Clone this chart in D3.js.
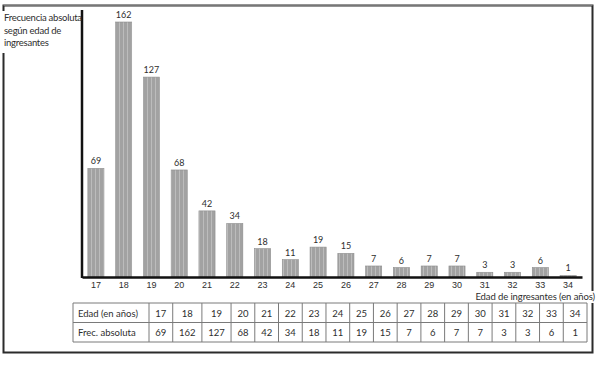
<!DOCTYPE html>
<html>
<head>
<meta charset="utf-8">
<script src="https://cdn.jsdelivr.net/npm/d3@7"></script>
<style>
  html, body { margin: 0; padding: 0; background: #fff; }
  svg { display: block; font-family: Lato, "Liberation Sans", sans-serif; }
</style>
</head>
<body>
<div id="chart"></div>
<script>
// Data
var edades = ["17", "18", "19", "20", "21", "22", "23", "24", "25", "26",
              "27", "28", "29", "30", "31", "32", "33", "34"];
var frecuencias = [69, 162, 127, 68, 42, 34, 18, 11, 19, 15, 7, 6, 7, 7, 3, 3, 6, 1];
var yTitle = ["Frecuencia absoluta", "según edad de", "ingresantes"];
var xTitle = "Edad de ingresantes (en años)";
var rowLabels = ["Edad (en años)", "Frec. absoluta"];

var W = 596, H = 366;
var margin = {top: 10, right: 14, bottom: 89, left: 82},
    width = W - margin.left - margin.right,
    height = H - margin.top - margin.bottom;

var textColor = "#2e2e2e";

var svg = d3.select("div#chart")
  .append("svg")
    .attr("width", W)
    .attr("height", H);

// striped fill for the bars
var pat = svg.append("defs").append("pattern")
    .attr("id", "stripes")
    .attr("patternUnits", "userSpaceOnUse")
    .attr("width", 4)
    .attr("height", 4);
pat.append("rect").attr("width", 4).attr("height", 4).attr("fill", "#a2a2a2");
pat.append("rect").attr("x", 1).attr("width", 1).attr("height", 4).attr("fill", "#bcbcbc");

// outer frame
var frame = svg.append("g")
    .attr("fill", "none")
    .attr("stroke", "#2b2b2b");
frame.append("path")
    .attr("stroke-width", 2)
    .attr("d", "M3.5,12V5.5H592.5V352.5H3.5V53");
frame.append("path")
    .attr("stroke", "#777")
    .attr("stroke-width", 1)
    .attr("d", "M3.5,5.5H592.5");

var g = svg.append("g")
    .attr("transform", "translate(" + margin.left + "," + margin.top + ")");

var xScale = d3.scaleBand()
    .domain(edades)
    .range([0, width])
    .paddingInner(0.42)
    .paddingOuter(0.21);

var yScale = d3.scaleLinear()
    .domain([0, d3.max(frecuencias)])
    .range([height, 12]);

var data = edades.map(function (e, i) { return {edad: e, frec: frecuencias[i]}; });

// bars
g.selectAll(".bar")
  .data(data)
  .enter().append("rect")
    .attr("class", "bar")
    .attr("x", function (d) { return xScale(d.edad); })
    .attr("y", function (d) { return yScale(d.frec); })
    .attr("width", xScale.bandwidth())
    .attr("height", function (d) { return height - yScale(d.frec); })
    .attr("fill", "url(#stripes)")
    .attr("stroke", "#8e8e8e")
    .attr("stroke-width", 0.6);

// value labels
g.selectAll(".val")
  .data(data)
  .enter().append("text")
    .attr("class", "val")
    .attr("x", function (d) { return xScale(d.edad) + xScale.bandwidth() / 2; })
    .attr("y", function (d) { return yScale(d.frec) - 4; })
    .attr("text-anchor", "middle")
    .attr("font-size", 9)
    .attr("fill", textColor)
    .text(function (d) { return d.frec; });

// axes
var xAxis = d3.axisBottom(xScale).tickSize(0).tickPadding(5);
var xg = g.append("g")
    .attr("transform", "translate(0," + height + ")")
    .call(xAxis);
xg.select(".domain").attr("stroke", "#111").attr("stroke-width", 2.5);
xg.selectAll("text").attr("font-size", 9).attr("fill", textColor).attr("font-family", null);

g.append("line")
    .attr("x1", 0).attr("x2", 0)
    .attr("y1", 0).attr("y2", height + 1)
    .attr("stroke", "#111")
    .attr("stroke-width", 2.5);

// y title with white backing over the frame
var yt = svg.append("g").attr("transform", "translate(3,0)");
yt.append("rect").attr("x", -2).attr("y", 11).attr("width", 76).attr("height", 41).attr("fill", "#fff");
yt.selectAll("text")
  .data(yTitle)
  .enter().append("text")
    .attr("x", 1)
    .attr("y", function (d, i) { return 21 + i * 12.5; })
    .attr("font-size", 9.5)
    .attr("letter-spacing", -0.25)
    .attr("fill", textColor)
    .text(function (d) { return d; });

// x title
var xt = svg.append("g");
xt.append("rect").attr("x", 472).attr("y", 291).attr("width", 124).attr("height", 12).attr("fill", "#fff");
xt.append("text")
    .attr("x", 595)
    .attr("y", 300)
    .attr("text-anchor", "end")
    .attr("font-size", 9.5)
    .attr("letter-spacing", -0.1)
    .attr("fill", textColor)
    .text(xTitle);

// data table under the chart
var tableLeft = 73, tableRight = 587, labelWidth = 76,
    rowTop = 303, rowH = 19.5;
var table = svg.append("g").attr("font-size", 9.5).attr("fill", textColor);

// column widths from the text they hold
var meas = table.append("text").attr("visibility", "hidden");
var natural = edades.map(function (e, i) {
  var w = 0;
  [e, String(frecuencias[i])].forEach(function (s) {
    meas.text(s);
    w = Math.max(w, meas.node().getComputedTextLength());
  });
  return w + 13;
});
meas.remove();
var k = (tableRight - tableLeft - labelWidth) / d3.sum(natural);
var colX = [tableLeft, tableLeft + labelWidth];
natural.forEach(function (w) { colX.push(colX[colX.length - 1] + w * k); });

var grid = table.append("g")
    .attr("stroke", "#7a7a7a")
    .attr("stroke-width", 1)
    .attr("fill", "none");
[0, 1, 2].forEach(function (r) {
  grid.append("line")
      .attr("x1", tableLeft).attr("x2", tableRight)
      .attr("y1", rowTop + r * rowH).attr("y2", rowTop + r * rowH);
});
colX.forEach(function (x) {
  grid.append("line")
      .attr("x1", x).attr("x2", x)
      .attr("y1", rowTop).attr("y2", rowTop + 2 * rowH);
});

rowLabels.forEach(function (lab, r) {
  table.append("text")
      .attr("x", tableLeft + 5)
      .attr("y", rowTop + r * rowH + 13.5)
      .text(lab);
});
[edades, frecuencias].forEach(function (row, r) {
  table.selectAll(".c" + r)
    .data(row)
    .enter().append("text")
      .attr("class", "c" + r)
      .attr("x", function (d, i) { return (colX[i + 1] + colX[i + 2]) / 2; })
      .attr("y", rowTop + r * rowH + 13.5)
      .attr("text-anchor", "middle")
      .text(function (d) { return d; });
});
</script>
</body>
</html>
